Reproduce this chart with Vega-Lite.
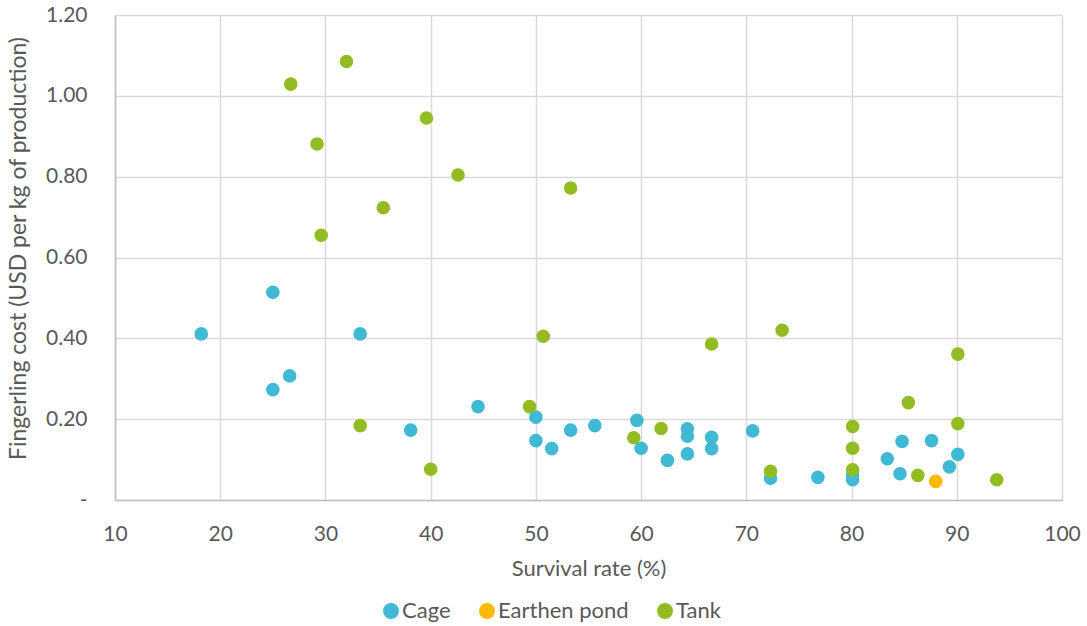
{
  "$schema": "https://vega.github.io/schema/vega-lite/v6.json",
  "autosize": {"type": "none"},
  "padding": {"left": 115, "top": 15, "right": 25, "bottom": 126},
  "width": 947,
  "height": 485,
  "background": "white",
  "config": {
    "font": "Lato",
    "view": {"stroke": null},
    "axis": {
      "labelFont": "Lato",
      "titleFont": "Lato",
      "labelColor": "#595959",
      "titleColor": "#595959",
      "labelFontSize": 21,
      "titleFontSize": 22,
      "titleFontWeight": "normal",
      "ticks": false,
      "domainColor": "#BFBFBF",
      "domainWidth": 1.5,
      "gridColor": "#D9D9D9",
      "gridWidth": 1.5
    },
    "legend": {
      "labelFont": "Lato",
      "labelColor": "#595959",
      "labelFontSize": 22
    }
  },
  "data": {
    "values": [
      {"system": "Cage", "survival": 18.2, "cost": 0.411},
      {"system": "Cage", "survival": 25.0, "cost": 0.514},
      {"system": "Cage", "survival": 25.0, "cost": 0.273},
      {"system": "Cage", "survival": 26.6, "cost": 0.307},
      {"system": "Cage", "survival": 33.3, "cost": 0.411},
      {"system": "Cage", "survival": 38.1, "cost": 0.173},
      {"system": "Cage", "survival": 44.5, "cost": 0.231},
      {"system": "Cage", "survival": 50.0, "cost": 0.205},
      {"system": "Cage", "survival": 50.0, "cost": 0.147},
      {"system": "Cage", "survival": 51.5, "cost": 0.127},
      {"system": "Cage", "survival": 53.3, "cost": 0.173},
      {"system": "Cage", "survival": 55.6, "cost": 0.184},
      {"system": "Cage", "survival": 59.6, "cost": 0.197},
      {"system": "Cage", "survival": 60.0, "cost": 0.128},
      {"system": "Cage", "survival": 62.5, "cost": 0.098},
      {"system": "Cage", "survival": 64.4, "cost": 0.176},
      {"system": "Cage", "survival": 64.4, "cost": 0.158},
      {"system": "Cage", "survival": 64.4, "cost": 0.114},
      {"system": "Cage", "survival": 66.7, "cost": 0.155},
      {"system": "Cage", "survival": 66.7, "cost": 0.127},
      {"system": "Cage", "survival": 70.6, "cost": 0.171},
      {"system": "Cage", "survival": 72.3, "cost": 0.054},
      {"system": "Cage", "survival": 76.8, "cost": 0.056},
      {"system": "Cage", "survival": 80.1, "cost": 0.062},
      {"system": "Cage", "survival": 80.1, "cost": 0.050},
      {"system": "Cage", "survival": 83.4, "cost": 0.102},
      {"system": "Cage", "survival": 84.6, "cost": 0.065},
      {"system": "Cage", "survival": 84.8, "cost": 0.145},
      {"system": "Cage", "survival": 87.6, "cost": 0.147},
      {"system": "Cage", "survival": 89.3, "cost": 0.082},
      {"system": "Cage", "survival": 90.1, "cost": 0.113},
      {"system": "Earthen pond", "survival": 88.0, "cost": 0.046},
      {"system": "Tank", "survival": 26.7, "cost": 1.029},
      {"system": "Tank", "survival": 29.2, "cost": 0.881},
      {"system": "Tank", "survival": 29.6, "cost": 0.655},
      {"system": "Tank", "survival": 32.0, "cost": 1.085},
      {"system": "Tank", "survival": 33.3, "cost": 0.184},
      {"system": "Tank", "survival": 35.5, "cost": 0.723},
      {"system": "Tank", "survival": 39.6, "cost": 0.945},
      {"system": "Tank", "survival": 40.0, "cost": 0.076},
      {"system": "Tank", "survival": 42.6, "cost": 0.804},
      {"system": "Tank", "survival": 49.4, "cost": 0.231},
      {"system": "Tank", "survival": 50.7, "cost": 0.405},
      {"system": "Tank", "survival": 53.3, "cost": 0.772},
      {"system": "Tank", "survival": 59.3, "cost": 0.154},
      {"system": "Tank", "survival": 61.9, "cost": 0.177},
      {"system": "Tank", "survival": 66.7, "cost": 0.386},
      {"system": "Tank", "survival": 72.3, "cost": 0.071},
      {"system": "Tank", "survival": 73.4, "cost": 0.420},
      {"system": "Tank", "survival": 80.1, "cost": 0.182},
      {"system": "Tank", "survival": 80.1, "cost": 0.128},
      {"system": "Tank", "survival": 80.1, "cost": 0.075},
      {"system": "Tank", "survival": 85.4, "cost": 0.241},
      {"system": "Tank", "survival": 86.3, "cost": 0.061},
      {"system": "Tank", "survival": 90.1, "cost": 0.361},
      {"system": "Tank", "survival": 90.1, "cost": 0.189},
      {"system": "Tank", "survival": 93.8, "cost": 0.050}
    ]
  },
  "mark": {"type": "circle", "size": 185, "opacity": 1},
  "encoding": {
    "x": {
      "field": "survival",
      "type": "quantitative",
      "scale": {"domain": [10, 100], "nice": false, "zero": false},
      "axis": {
        "values": [10, 20, 30, 40, 50, 60, 70, 80, 90, 100],
        "title": "Survival rate (%)",
        "labelPadding": 23,
        "labelFlush": false,
        "titleY": 75,
        "titleBaseline": "alphabetic"
      }
    },
    "y": {
      "field": "cost",
      "type": "quantitative",
      "scale": {"domain": [0, 1.2], "nice": false},
      "axis": {
        "values": [0, 0.2, 0.4, 0.6, 0.8, 1.0, 1.2],
        "labelExpr": "datum.value == 0 ? '-\u00a0\u00a0' : format(datum.value, '.2f')",
        "labelPadding": 28,
        "labelFlush": false,
        "title": "Fingerling cost (USD per kg of production)",
        "titleFontSize": 23,
        "titleAngle": -90,
        "titleX": -97,
        "titleY": 233,
        "titleAlign": "center",
        "titleBaseline": "middle"
      }
    },
    "color": {
      "field": "system",
      "type": "nominal",
      "scale": {
        "domain": ["Cage", "Earthen pond", "Tank"],
        "range": ["#40B9D4", "#FFB900", "#92BC22"]
      },
      "legend": {
        "title": null,
        "orient": "none",
        "direction": "horizontal",
        "legendX": 265,
        "legendY": 585,
        "symbolType": "circle",
        "symbolSize": 254,
        "symbolOpacity": 1,
        "symbolStrokeWidth": 0,
        "labelOffset": 0,
        "columnPadding": 25
      }
    }
  }
}
